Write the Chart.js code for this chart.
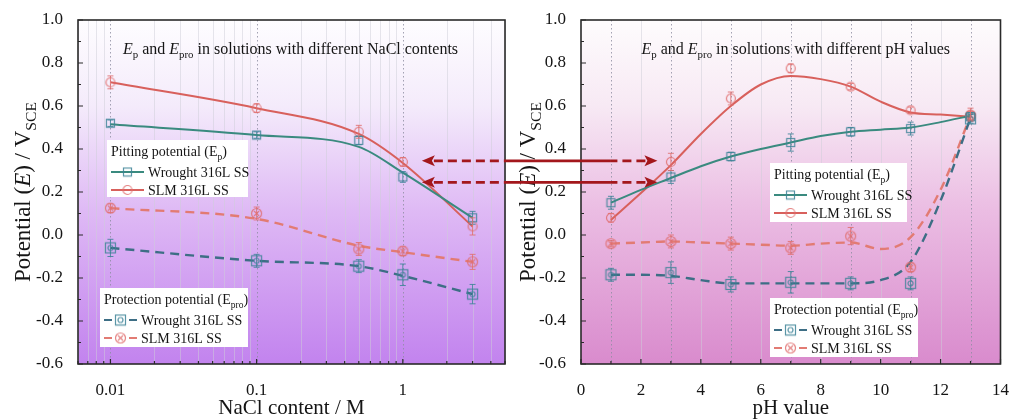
<!DOCTYPE html>
<html>
<head>
<meta charset="utf-8">
<script src="https://cdn.jsdelivr.net/npm/chart.js@4.4.1/dist/chart.umd.min.js"></script>
<style>
  html, body { margin: 0; padding: 0; background: #fff; }
  #wrap { position: relative; width: 1017px; height: 419px; overflow: hidden; }
  canvas { position: absolute; top: 0; }
  #naclChart { left: 0; }
  #phChart { left: 515px; }
  #arrows { left: 0; pointer-events: none; }
</style>
</head>
<body>
<div id="wrap">
  <canvas id="naclChart" width="515" height="419"></canvas>
  <canvas id="phChart" width="502" height="419"></canvas>
  <canvas id="arrows" width="1017" height="419"></canvas>
</div>
<script>
const SERIF = '"Liberation Serif", "Times New Roman", serif';

// DADOS – painel esquerdo (NaCl)
const naclX = [0.01, 0.1, 0.5, 1, 3];
const naclWroughtEp = [0.52, 0.465, 0.44, 0.27, 0.08];
const naclWroughtEpErr = [0.015, 0.015, 0.02, 0.025, 0.03];
const naclSlmEp = [0.71, 0.59, 0.48, 0.34, 0.04];
const naclSlmEpErr = [0.03, 0.02, 0.03, 0.02, 0.04];
const naclWroughtEpro = [-0.06, -0.12, -0.145, -0.185, -0.275];
const naclWroughtEproErr = [0.04, 0.03, 0.03, 0.05, 0.045];
const naclSlmEpro = [0.125, 0.10, -0.065, -0.075, -0.125];
const naclSlmEproErr = [0.02, 0.03, 0.03, 0.02, 0.035];
// curvas de ajuste
const naclFitWroughtEp = [0.515, 0.465, 0.41, 0.29, 0.08];
const naclFitSlmEp = [0.71, 0.59, 0.47, 0.335, 0.04];
const naclFitWroughtEpro = [-0.06, -0.12, -0.145, -0.19, -0.275];
const naclFitSlmEpro = [0.125, 0.075, -0.05, -0.08, -0.125];
const naclTickLabels = [0.01, 0.1, 1];

// DADOS – painel direito (pH)
const phX = [1, 3, 5, 7, 9, 11, 13];
const phWroughtEp = [0.15, 0.27, 0.365, 0.43, 0.48, 0.495, 0.55];
const phWroughtEpErr = [0.03, 0.03, 0.02, 0.04, 0.02, 0.03, 0.02];
const phSlmEp = [0.08, 0.34, 0.635, 0.775, 0.69, 0.58, 0.56];
const phSlmEpErr = [0.02, 0.04, 0.03, 0.02, 0.015, 0.015, 0.03];
const phWroughtEpro = [-0.185, -0.175, -0.23, -0.22, -0.225, -0.225, 0.54];
const phWroughtEproErr = [0.03, 0.05, 0.035, 0.05, 0.03, 0.03, 0.02];
const phSlmEpro = [-0.04, -0.03, -0.04, -0.06, -0.005, -0.15, 0.555];
const phSlmEproErr = [0.015, 0.03, 0.03, 0.03, 0.04, 0.02, 0.02];
// curvas de ajuste
const phFitX = [1, 2, 3, 4, 5, 6, 7, 8, 9, 10, 11, 12, 13];
const phFitWroughtEp = [0.15, 0.21, 0.265, 0.32, 0.365, 0.40, 0.43, 0.46, 0.48, 0.49, 0.50, 0.525, 0.555];
const phFitSlmEp = [0.07, 0.195, 0.325, 0.47, 0.60, 0.70, 0.74, 0.725, 0.69, 0.62, 0.57, 0.56, 0.55];
const phFitWroughtEpro = [-0.185, -0.185, -0.19, -0.21, -0.225, -0.225, -0.225, -0.225, -0.225, -0.21, -0.125, 0.16, 0.545];
const phFitSlmEpro = [-0.04, -0.035, -0.03, -0.035, -0.04, -0.045, -0.05, -0.04, -0.035, -0.065, -0.01, 0.21, 0.555];

// setas entre os painéis (em coordenadas dos dados)
const arrowLevels = [0.345, 0.245];
const arrowNaclEnd = 1.35;
const arrowPhSolidEnd = 1;
const arrowPhEnd = 2.55;

const colors = {
  wroughtEp: '#3a8a7f',
  slmEp: '#d8605c',
  wroughtEpro: '#3d6e85',
  slmEpro: '#e27b73',
  wroughtMark: 'rgba(60,130,150,0.85)',
  slmMark: 'rgba(225,110,110,0.85)',
};

const pts = (xs, ys) => xs.map((x, i) => ({ x, y: ys[i] }));
const font = (size, italic) => (italic ? 'italic ' : '') + size + 'px ' + SERIF;

// MARCADORES
function makeMarker(shape, color, size) {
  const c = document.createElement('canvas');
  c.width = c.height = size + 3;
  const g = c.getContext('2d');
  const m = (size + 3) / 2, r = size / 2;
  g.strokeStyle = color;
  g.lineWidth = 1.2;
  if (shape === 'sqcirc') {
    g.strokeRect(m - r, m - r, size, size);
    g.beginPath(); g.arc(m, m, r * 0.5, 0, 2 * Math.PI); g.stroke();
  } else if (shape === 'circx') {
    g.beginPath(); g.arc(m, m, r, 0, 2 * Math.PI); g.stroke();
    const d = r * 0.5;
    g.beginPath();
    g.moveTo(m - d, m - d); g.lineTo(m + d, m + d);
    g.moveTo(m + d, m - d); g.lineTo(m - d, m + d);
    g.stroke();
  } else if (shape === 'sq') {
    g.strokeRect(m - r, m - r, size, size);
  } else {
    g.beginPath(); g.arc(m, m, r, 0, 2 * Math.PI); g.stroke();
  }
  return c;
}

const mk = {
  wroughtEp: makeMarker('sq', colors.wroughtMark, 8),
  slmEp: makeMarker('circ', colors.slmMark, 9),
  wroughtEpro: makeMarker('sqcirc', colors.wroughtMark, 10),
  slmEpro: makeMarker('circx', colors.slmMark, 10),
};

function fitLine(xs, ys, color, dashed) {
  return {
    type: 'line', data: pts(xs, ys), borderColor: color,
    borderWidth: dashed ? 2.4 : 2, borderDash: dashed ? [9, 6] : [],
    pointRadius: 0, cubicInterpolationMode: 'monotone', fill: false, order: 2,
  };
}
function markers(xs, ys, err, color, marker) {
  return {
    type: 'line', showLine: false, data: pts(xs, ys), err, errColor: color,
    pointStyle: marker, pointRadius: 5, borderColor: color, order: 1,
  };
}

// TEXTO COM ÍNDICES
function richWidth(ctx, parts, size) {
  let w = 0;
  for (const [t, s] of parts) {
    ctx.font = font(s === 's' ? size * 0.68 : size, s === 'i');
    w += ctx.measureText(t).width;
  }
  return w;
}
function drawRich(ctx, parts, x, y, size) {
  ctx.fillStyle = '#151515';
  ctx.textAlign = 'left';
  ctx.textBaseline = 'alphabetic';
  for (const [t, s] of parts) {
    const sz = s === 's' ? size * 0.68 : size;
    ctx.font = font(sz, s === 'i');
    ctx.fillText(t, x, s === 's' ? y + size * 0.25 : y);
    x += ctx.measureText(t).width;
  }
}

function drawLegend(ctx, area, lg) {
  const x = area.left + lg.dx, y = area.top + lg.dy;
  ctx.save();
  ctx.fillStyle = '#fff';
  ctx.fillRect(x, y, lg.w, lg.h);
  drawRich(ctx, lg.title, x + 4, y + 16, 14);
  lg.items.forEach((it, i) => {
    const cy = y + 32 + i * 18;
    ctx.strokeStyle = it.color;
    ctx.lineWidth = 2;
    ctx.beginPath();
    if (it.dashed) {
      ctx.moveTo(x + 4, cy); ctx.lineTo(x + 12, cy);
      ctx.moveTo(x + 29, cy); ctx.lineTo(x + 37, cy);
    } else {
      ctx.moveTo(x + 4, cy); ctx.lineTo(x + 37, cy);
    }
    ctx.stroke();
    ctx.drawImage(it.marker, x + 20.5 - it.marker.width / 2, cy - it.marker.height / 2);
    ctx.fillStyle = '#151515';
    ctx.font = font(14);
    ctx.textBaseline = 'middle';
    ctx.fillText(it.label, x + 41, cy + 1);
  });
  ctx.restore();
}

// PLUGINS
const errorBars = {
  id: 'errorBars',
  afterDatasetsDraw(chart) {
    const { ctx, scales } = chart;
    chart.data.datasets.forEach((ds, i) => {
      if (!ds.err) return;
      const meta = chart.getDatasetMeta(i);
      ctx.save();
      ctx.strokeStyle = ds.errColor;
      ctx.lineWidth = 1;
      ctx.beginPath();
      meta.data.forEach((pt, j) => {
        const v = ds.data[j].y, e = ds.err[j];
        const y1 = scales.y.getPixelForValue(v + e), y2 = scales.y.getPixelForValue(v - e);
        ctx.moveTo(pt.x, y1); ctx.lineTo(pt.x, y2);
        ctx.moveTo(pt.x - 3, y1); ctx.lineTo(pt.x + 3, y1);
        ctx.moveTo(pt.x - 3, y2); ctx.lineTo(pt.x + 3, y2);
      });
      ctx.stroke();
      ctx.restore();
    });
  },
};

function framePlugin(cfg) {
  return {
    id: 'frame',
    beforeDraw(chart) {
      const { ctx, chartArea: a } = chart;
      const grad = ctx.createLinearGradient(0, a.top, 0, a.bottom);
      cfg.bg.forEach(([s, c]) => grad.addColorStop(s, c));
      ctx.save();
      ctx.fillStyle = grad;
      ctx.fillRect(a.left, a.top, a.right - a.left, a.bottom - a.top);
      ctx.restore();
    },
    beforeDatasetsDraw(chart) {
      const { ctx, chartArea: a, scales } = chart;
      ctx.save();
      ctx.lineWidth = 1;
      cfg.faintGrid.forEach((v) => {
        const p = Math.round(scales.x.getPixelForValue(v)) + 0.5;
        ctx.strokeStyle = 'rgba(205,205,215,0.5)';
        ctx.setLineDash([]);
        ctx.beginPath(); ctx.moveTo(p, a.top); ctx.lineTo(p, a.bottom); ctx.stroke();
      });
      cfg.dotGrid.forEach((v) => {
        const p = Math.round(scales.x.getPixelForValue(v)) + 0.5;
        ctx.strokeStyle = 'rgba(140,140,160,0.8)';
        ctx.setLineDash([1.5, 2.5]);
        ctx.beginPath(); ctx.moveTo(p, a.top); ctx.lineTo(p, a.bottom); ctx.stroke();
      });
      ctx.restore();
    },
    afterDatasetsDraw(chart) {
      const { ctx, chartArea: a } = chart;
      cfg.legends.forEach((lg) => drawLegend(ctx, a, lg));
    },
    afterDraw(chart) {
      const { ctx, chartArea: a, scales } = chart;
      ctx.save();
      ctx.strokeStyle = '#2a2a2a';
      ctx.lineWidth = 1.2;
      ctx.beginPath();
      cfg.yMajor.forEach((v) => { const p = scales.y.getPixelForValue(v); ctx.moveTo(a.left, p); ctx.lineTo(a.left + 5, p); });
      cfg.yMinor.forEach((v) => { const p = scales.y.getPixelForValue(v); ctx.moveTo(a.left, p); ctx.lineTo(a.left + 3, p); });
      cfg.xMajor.forEach((v) => { const p = scales.x.getPixelForValue(v); ctx.moveTo(p, a.bottom); ctx.lineTo(p, a.bottom - 5); });
      cfg.xMinor.forEach((v) => { const p = scales.x.getPixelForValue(v); ctx.moveTo(p, a.bottom); ctx.lineTo(p, a.bottom - 3); });
      ctx.stroke();
      ctx.lineWidth = 1.6;
      ctx.strokeRect(a.left, a.top, a.right - a.left, a.bottom - a.top);

      // título interno
      const tw = richWidth(ctx, cfg.title, 16);
      drawRich(ctx, cfg.title, (a.left + a.right) / 2 + cfg.titleShift - tw / 2, a.top + 34, 16);

      // título eixo x
      ctx.fillStyle = '#151515';
      ctx.font = font(21);
      ctx.textAlign = 'center';
      ctx.textBaseline = 'middle';
      ctx.fillText(cfg.xTitle, (a.left + a.right) / 2, a.bottom + 44);

      // título eixo y
      const yt = [['Potential (', ''], ['E', 'i'], [') / V', ''], ['SCE', 's']];
      const yw = richWidth(ctx, yt, 23);
      ctx.translate(cfg.yTitleX, (a.top + a.bottom) / 2);
      ctx.rotate(-Math.PI / 2);
      drawRich(ctx, yt, -yw / 2, 8, 23);
      ctx.restore();
    },
  };
}

// TICKS
const yMajor = [], yMinor = [];
for (let k = -6; k <= 10; k++) (k % 2 === 0 ? yMajor : yMinor).push(k / 10);

const naclMinor = [];
for (const d of [0.001, 0.01, 0.1, 1]) {
  for (let k = 2; k <= 9; k++) {
    const v = +(k * d).toPrecision(3);
    if (v >= 0.006 && v <= 5) naclMinor.push(v);
  }
}
const phMajor = [0, 2, 4, 6, 8, 10, 12, 14];
const phOdd = [1, 3, 5, 7, 9, 11, 13];
const phEven = [2, 4, 6, 8, 10, 12];

const tickFont = { family: SERIF, size: 17 };

function yScale(width) {
  return {
    min: -0.6, max: 1.0,
    grid: { display: false }, border: { display: false },
    afterFit: (s) => { s.width = width; },
    ticks: { stepSize: 0.2, padding: 7, font: tickFont, color: '#151515', callback: (v) => (Math.abs(v) < 1e-9 ? 0 : v).toFixed(1) },
  };
}

const bgNacl = [[0, '#fefdff'], [0.25, '#f4ebfb'], [0.55, '#dfbaf5'], [1, '#c283ee']];
const bgPh = [[0, '#fefcfd'], [0.25, '#f7e9f4'], [0.55, '#ebbde3'], [1, '#d98bcd']];

const pitTitle = [['Pitting potential (E', ''], ['p', 's'], [')', '']];
const proTitle = [['Protection potential (E', ''], ['pro', 's'], [')', '']];
const pitItems = [
  { label: 'Wrought 316L SS', color: colors.wroughtEp, marker: mk.wroughtEp },
  { label: 'SLM 316L SS', color: colors.slmEp, marker: mk.slmEp },
];
const proItems = [
  { label: 'Wrought 316L SS', color: colors.wroughtEpro, marker: mk.wroughtEpro, dashed: true },
  { label: 'SLM 316L SS', color: colors.slmEpro, marker: mk.slmEpro, dashed: true },
];

// GRÁFICO ESQUERDO
const naclChart = new Chart(document.getElementById('naclChart'), {
  type: 'line',
  data: {
    datasets: [
      fitLine(naclX, naclFitWroughtEp, colors.wroughtEp, false),
      fitLine(naclX, naclFitSlmEp, colors.slmEp, false),
      fitLine(naclX, naclFitWroughtEpro, colors.wroughtEpro, true),
      fitLine(naclX, naclFitSlmEpro, colors.slmEpro, true),
      markers(naclX, naclWroughtEp, naclWroughtEpErr, colors.wroughtMark, mk.wroughtEp),
      markers(naclX, naclSlmEp, naclSlmEpErr, colors.slmMark, mk.slmEp),
      markers(naclX, naclWroughtEpro, naclWroughtEproErr, colors.wroughtMark, mk.wroughtEpro),
      markers(naclX, naclSlmEpro, naclSlmEproErr, colors.slmMark, mk.slmEpro),
    ],
  },
  options: {
    responsive: false, animation: false, devicePixelRatio: 1,
    layout: { padding: { top: 20, right: 10, left: 0, bottom: 0 } },
    plugins: { legend: { display: false }, tooltip: { enabled: false } },
    scales: {
      x: {
        type: 'logarithmic', min: 0.006, max: 5,
        grid: { display: false }, border: { display: false },
        afterFit: (s) => { s.height = 55; },
        afterBuildTicks: (s) => { s.ticks = naclTickLabels.map((v) => ({ value: v })); },
        ticks: { autoSkip: false, maxRotation: 0, padding: 8, font: tickFont, color: '#151515', callback: (v) => String(v) },
      },
      y: yScale(78),
    },
  },
  plugins: [errorBars, framePlugin({
    bg: bgNacl,
    faintGrid: naclMinor,
    dotGrid: naclTickLabels,
    xMajor: naclTickLabels, xMinor: naclMinor, yMajor, yMinor,
    title: [['E', 'i'], ['p', 's'], [' and ', ''], ['E', 'i'], ['pro', 's'], [' in solutions with different NaCl contents', '']],
    titleShift: -1,
    xTitle: 'NaCl content / M',
    yTitleX: 22,
    legends: [
      { dx: 29, dy: 120, w: 141, h: 57, title: pitTitle, items: pitItems },
      { dx: 22, dy: 268, w: 148, h: 59, title: proTitle, items: proItems },
    ],
  })],
});

// GRÁFICO DIREITO
const phChart = new Chart(document.getElementById('phChart'), {
  type: 'line',
  data: {
    datasets: [
      fitLine(phFitX, phFitWroughtEp, colors.wroughtEp, false),
      fitLine(phFitX, phFitSlmEp, colors.slmEp, false),
      fitLine(phFitX, phFitWroughtEpro, colors.wroughtEpro, true),
      fitLine(phFitX, phFitSlmEpro, colors.slmEpro, true),
      markers(phX, phWroughtEp, phWroughtEpErr, colors.wroughtMark, mk.wroughtEp),
      markers(phX, phSlmEp, phSlmEpErr, colors.slmMark, mk.slmEp),
      markers(phX, phWroughtEpro, phWroughtEproErr, colors.wroughtMark, mk.wroughtEpro),
      markers(phX, phSlmEpro, phSlmEproErr, colors.slmMark, mk.slmEpro),
    ],
  },
  options: {
    responsive: false, animation: false, devicePixelRatio: 1,
    layout: { padding: { top: 20, right: 7, left: 0, bottom: 0 } },
    plugins: { legend: { display: false }, tooltip: { enabled: false } },
    scales: {
      x: {
        type: 'linear', min: 0, max: 14,
        grid: { display: false }, border: { display: false },
        afterFit: (s) => { s.height = 55; },
        ticks: { stepSize: 2, autoSkip: false, maxRotation: 0, padding: 8, font: tickFont, color: '#151515' },
      },
      y: yScale(66),
    },
  },
  plugins: [errorBars, framePlugin({
    bg: bgPh,
    faintGrid: phEven,
    dotGrid: phOdd,
    xMajor: phMajor, xMinor: phOdd, yMajor, yMinor,
    title: [['E', 'i'], ['p', 's'], [' and ', ''], ['E', 'i'], ['pro', 's'], [' in solutions with different pH values', '']],
    titleShift: 5,
    xTitle: 'pH value',
    yTitleX: 12,
    legends: [
      { dx: 189, dy: 143, w: 137, h: 59, title: pitTitle, items: pitItems },
      { dx: 189, dy: 278, w: 148, h: 59, title: proTitle, items: proItems },
    ],
  })],
});

// SETAS
function drawArrows() {
  const ctx = document.getElementById('arrows').getContext('2d');
  const off = 515;
  const xStart = naclChart.scales.x.getPixelForValue(arrowNaclEnd);
  const xSolidA = naclChart.chartArea.right;
  const xSolidB = off + phChart.scales.x.getPixelForValue(arrowPhSolidEnd);
  const xEnd = off + phChart.scales.x.getPixelForValue(arrowPhEnd);
  const head = 13, hw = 5.5;
  ctx.strokeStyle = '#a3171c';
  ctx.fillStyle = '#a3171c';
  ctx.lineWidth = 2.6;
  arrowLevels.forEach((v) => {
    const y = naclChart.scales.y.getPixelForValue(v);
    ctx.setLineDash([9, 5]);
    ctx.beginPath();
    ctx.moveTo(xStart + head - 1, y); ctx.lineTo(xSolidA, y);
    ctx.moveTo(xEnd - head + 1, y); ctx.lineTo(xSolidB, y);
    ctx.stroke();
    ctx.setLineDash([]);
    ctx.beginPath(); ctx.moveTo(xSolidA, y); ctx.lineTo(xSolidB, y); ctx.stroke();
    ctx.beginPath();
    ctx.moveTo(xStart, y); ctx.lineTo(xStart + head, y - hw); ctx.lineTo(xStart + head - 3, y); ctx.lineTo(xStart + head, y + hw); ctx.closePath();
    ctx.fill();
    ctx.beginPath();
    ctx.moveTo(xEnd, y); ctx.lineTo(xEnd - head, y - hw); ctx.lineTo(xEnd - head + 3, y); ctx.lineTo(xEnd - head, y + hw); ctx.closePath();
    ctx.fill();
  });
}
drawArrows();
</script>
</body>
</html>
